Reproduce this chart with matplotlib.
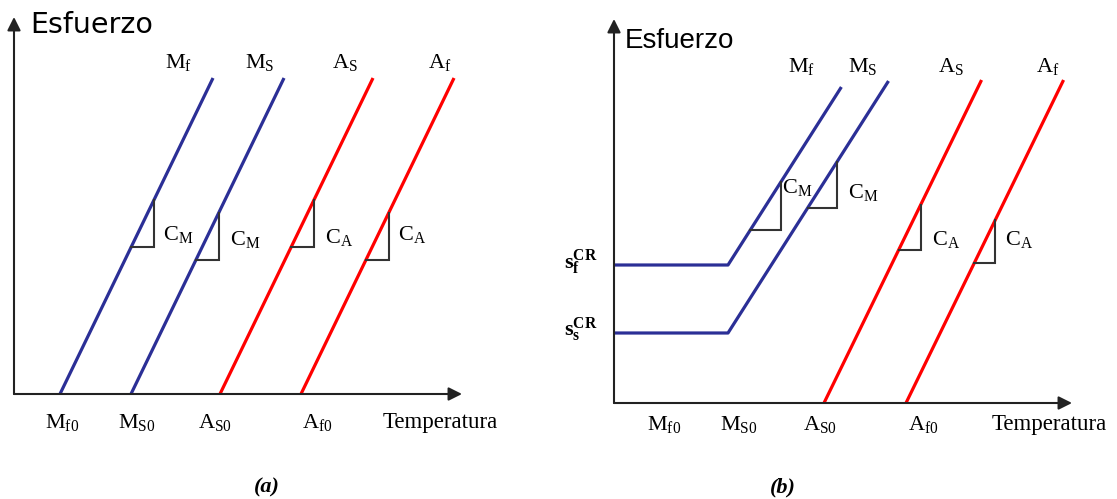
import matplotlib
matplotlib.use('Agg')
import matplotlib.pyplot as plt
import numpy as np

plt.rcParams['mathtext.fontset'] = 'custom'
plt.rcParams['mathtext.rm'] = 'Liberation Serif'
plt.rcParams['mathtext.it'] = 'Liberation Serif:italic'
plt.rcParams['mathtext.bf'] = 'Liberation Serif:bold'

# ---- panel (a): plain Clausius-Clapeyron lines ----
a_T0 = [46, 117, 206, 287]          # Mf0, Ms0, As0, Af0
a_slope = [2.065, 2.065, 2.065, 2.065]  # C_M, C_M, C_A, C_A
a_top = 316
a_tri_base = [147, 134, 147, 134]
a_tri_h = [47, 47, 47, 47]

# ---- panel (b): martensite lines with critical stresses ----
b_sig_cr = [138, 70]                # s_f^CR, s_s^CR
b_T_kink = [114, 114]
b_CM = 1.57
b_M_top = [316, 322]
b_A_T0 = [210, 292]                 # As0, Af0
b_CA = 2.05
b_A_top = [323, 323]
b_tri_base = [173, 195, 153, 140]
b_tri_h = [48, 46, 45, 43]

top_labels = [r'M$_\mathrm{f}$', r'M$_\mathrm{S}$', r'A$_\mathrm{S}$', r'A$_\mathrm{f}$']
bot_labels = [r'M$_\mathrm{f0}$', r'M$_\mathrm{S0}$', r'A$_\mathrm{S0}$', r'A$_\mathrm{f0}$']
tri_labels = [r'C$_\mathrm{M}$', r'C$_\mathrm{M}$', r'C$_\mathrm{A}$', r'C$_\mathrm{A}$']
cr_labels = [r'$\mathbf{s_f^{CR}}$', r'$\mathbf{s_s^{CR}}$']

BLUE = '#2b2f96'
RED = '#ff0000'
TRI = '#333333'
colors = [BLUE, BLUE, RED, RED]

W, H = 1117, 499
fig = plt.figure(figsize=(W / 100, H / 100), dpi=100)


def px(x, y):
    return x / W, 1 - y / H


def txt(x, y, s, **kw):
    kw.setdefault('family', 'Liberation Serif')
    kw.setdefault('fontsize', 16)
    kw.setdefault('va', 'baseline')
    fig.text(*px(x, y), s, **kw)


def draw_axes(ax, xmax, ymax):
    ax.set_xlim(0, xmax)
    ax.set_ylim(0, ymax)
    ax.set_axis_off()
    ap = dict(arrowstyle='-|>', color='#222222', lw=1.5, mutation_scale=20, shrinkA=0, shrinkB=0)
    ax.annotate('', xy=(xmax, 0), xytext=(0, 0), arrowprops=ap, annotation_clip=False)
    ax.annotate('', xy=(0, ymax), xytext=(0, 0), arrowprops=ap, annotation_clip=False)


def triangle(ax, T_of, base, h):
    s = np.array([base, base, base + h])
    t = np.array([T_of(base), T_of(base + h), T_of(base + h)])
    ax.plot(t, s, color=TRI, lw=1.5, solid_joinstyle='miter')


# panel (a)
ax_a = fig.add_axes([14 / W, (H - 394) / H, 448 / W, 377 / H])
draw_axes(ax_a, 448, 377)
for T0, c, col, base, h in zip(a_T0, a_slope, colors, a_tri_base, a_tri_h):
    T_of = lambda s, T0=T0, c=c: T0 + s / c
    ax_a.plot([T0, T_of(a_top)], [0, a_top], color=col, lw=2.3, solid_capstyle='butt')
    triangle(ax_a, T_of, base, h)

# panel (b)
ax_b = fig.add_axes([614 / W, (H - 403) / H, 458 / W, 384 / H])
draw_axes(ax_b, 458, 384)
b_funcs = []
for scr, Tk, top in zip(b_sig_cr, b_T_kink, b_M_top):
    T_of = lambda s, scr=scr, Tk=Tk: Tk + (s - scr) / b_CM
    b_funcs.append(T_of)
    ax_b.plot([0, Tk, T_of(top)], [scr, scr, top], color=BLUE, lw=2.3, solid_capstyle='butt')
for T0, top in zip(b_A_T0, b_A_top):
    T_of = lambda s, T0=T0: T0 + s / b_CA
    b_funcs.append(T_of)
    ax_b.plot([T0, T_of(top)], [0, top], color=RED, lw=2.3, solid_capstyle='butt')
for T_of, base, h in zip(b_funcs, b_tri_base, b_tri_h):
    triangle(ax_b, T_of, base, h)

# text, panel (a)
txt(30, 33, 'Esfuerzo', family='DejaVu Sans', fontsize=20.5)
for x, s in zip([165, 245, 332, 428], top_labels):
    txt(x, 68, s)
for x, s in zip([45, 118, 198, 302], bot_labels):
    txt(x, 428, s)
txt(383, 428, 'Temperatura', fontsize=16.5)
for (x, y), s in zip([(163, 240), (230, 245), (325, 243), (398, 240)], tri_labels):
    txt(x, y, s)
txt(267, 487, '(a)', fontsize=16, fontweight='bold', style='italic', ha='center', va='center')

# text, panel (b)
txt(625, 48, 'Esfuerzo', family='Liberation Sans', fontsize=20)
for x, s in zip([788, 848, 938, 1036], top_labels):
    txt(x, 72, s)
for x, s in zip([647, 720, 803, 908], bot_labels):
    txt(x, 430, s)
txt(992, 430, 'Temperatura', fontsize=16.5)
for (x, y), s in zip([(782, 193), (848, 198), (932, 245), (1005, 245)], tri_labels):
    txt(x, y, s)
for y, s in zip([262, 330], cr_labels):
    txt(564, y, s, fontsize=16, va='center')
txt(783, 487, '(b)', fontsize=16, fontweight='bold', style='italic', ha='center', va='center')

fig.savefig('out.png', dpi=100, facecolor='white')
